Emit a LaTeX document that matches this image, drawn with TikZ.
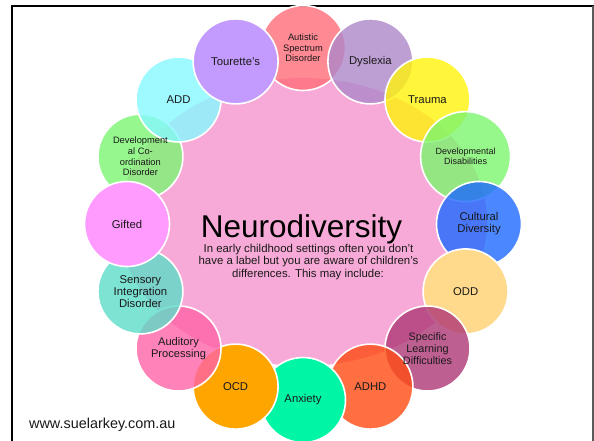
\documentclass[tikz,border=0pt]{standalone}
\usepackage{fontspec}
\setmainfont{Liberation Sans}
\usetikzlibrary{shapes.geometric}
\definecolor{pinkc}{RGB}{247,170,215}
\definecolor{txt}{RGB}{25,25,25}
\definecolor{autc}{RGB}{255,109,121}
\definecolor{dysc}{RGB}{174,136,201}
\definecolor{trac}{RGB}{255,243,11}
\definecolor{ddc}{RGB}{124,245,109}
\definecolor{culc}{RGB}{30,105,255}
\definecolor{oddc}{RGB}{255,217,140}
\definecolor{sldc}{RGB}{174,55,118}
\definecolor{adhdc}{RGB}{255,76,19}
\definecolor{anxc}{RGB}{0,245,165}
\definecolor{ocdc}{RGB}{255,165,0}
\definecolor{audc}{RGB}{255,99,168}
\definecolor{senc}{RGB}{93,221,201}
\definecolor{gifc}{RGB}{255,155,255}
\definecolor{dcdc}{RGB}{124,245,115}
\definecolor{addc}{RGB}{136,249,255}
\definecolor{touc}{RGB}{195,155,255}
\definecolor{framegray}{RGB}{90,90,90}
\tikzset{
  bub/.style={circle, draw=white, line width=1.6pt, minimum size=85pt, inner sep=0pt},
  tbub/.style={bub, fill opacity=0.8},
  lbl/.style={align=center, text=txt, font=\fontsize{11.3}{12}\selectfont, inner sep=0pt},
  slbl/.style={align=center, text=txt, font=\fontsize{9.3}{10.5}\selectfont, inner sep=0pt},
  subline/.style={anchor=base, text=txt, font=\fontsize{11.4}{12.7}\selectfont, inner sep=0pt},
}
\begin{document}
\begin{tikzpicture}[x=1pt,y=-1pt]
\useasboundingbox (0,0) rectangle (594,440);
\fill[white] (0,0) rectangle (594,440);
% frame
\draw[line width=2pt] (12,450) -- (12,6) -- (594,6);
\draw[framegray, line width=1.5pt] (593,6) -- (593,450);
% central shape
\node[ellipse, fill=pinkc, minimum width=368pt, minimum height=288pt, inner sep=0pt] (hub) at (303,222) {};
% circles
\node[tbub, fill=autc] (aut) at (303,48) {};
\node[tbub, fill=dysc] (dys) at (370.4,61.4) {};
\node[tbub, fill=trac] (tra) at (427.5,99.5) {};
\node[tbub, fill=ddc, minimum size=90pt] (dd) at (465.6,156.6) {};
\node[tbub, fill=culc] (cul) at (479,224) {};
\node[bub, fill=oddc] (odd) at (465.6,291.4) {};
\node[tbub, fill=sldc] (sld) at (427.5,348.5) {};
\node[tbub, fill=adhdc] (adhd) at (370.4,386.6) {};
\node[bub, fill=anxc] (anx) at (303,400) {};
\node[bub, fill=ocdc] (ocd) at (235.6,386.6) {};
\node[tbub, fill=audc] (aud) at (178.5,348.5) {};
\node[tbub, fill=senc] (sen) at (140.4,291.4) {};
\node[tbub, fill=dcdc] (dcd) at (140.4,156.6) {};
\node[bub, fill=gifc] (gif) at (127,224) {};
\node[tbub, fill=addc] (add) at (178.5,99.5) {};
\node[bub, fill=touc] (tou) at (235.6,61.4) {};
% labels
\node[slbl] (autl) at (aut.center) {Autistic\\Spectrum\\Disorder};
\node[lbl] (dysl) at (dys.center) {Dyslexia};
\node[lbl] (tral) at (tra.center) {Trauma};
\node[slbl, font=\fontsize{9}{10}\selectfont] (ddl) at (dd.center) {Developmental\\Disabilities};
\node[lbl] (cull) at (cul.center) {Cultural\\Diversity};
\node[lbl] (oddl) at (odd.center) {ODD};
\node[lbl, font=\fontsize{10.8}{11.8}\selectfont] (sldl) at (sld.center) {Specific\\Learning\\Difficulties};
\node[lbl] (adhdl) at (adhd.center) {ADHD};
\node[lbl] (anxl) at (anx.center) {Anxiety};
\node[lbl] (ocdl) at (ocd.center) {OCD};
\node[lbl, font=\fontsize{11.1}{11.7}\selectfont] (audl) at (aud.center) {Auditory\\Processing};
\node[lbl, font=\fontsize{11.3}{12}\selectfont] (senl) at (sen.center) {Sensory\\Integration\\Disorder};
\node[lbl] (gifl) at (gif.center) {Gifted};
\node[slbl, font=\fontsize{9.3}{10.7}\selectfont] (dcdl) at (dcd.center) {Development\\al Co-\\ordination\\Disorder};
\node[lbl] (addl) at (add.center) {ADD};
\node[lbl] (toul) at (tou.center) {Tourette's};
% central text
\node[anchor=base, text=black, font=\fontsize{31.5}{36}\selectfont, inner sep=0pt] (title) at (301.5,237) {Neurodiversity};
\node[subline] (sub1) at (308.5,252) {In early childhood settings often you don’t};
\node[subline] (sub2) at (308.5,264.6) {have a label but you are aware of children’s};
\node[subline] (sub3) at (308,277.2) {differences. This may include:};
% footer
\node[anchor=base west, text=txt, font=\fontsize{14.4}{16}\selectfont, inner sep=0pt] (url) at (29,428) {www.suelarkey.com.au};
\end{tikzpicture}
\end{document}
